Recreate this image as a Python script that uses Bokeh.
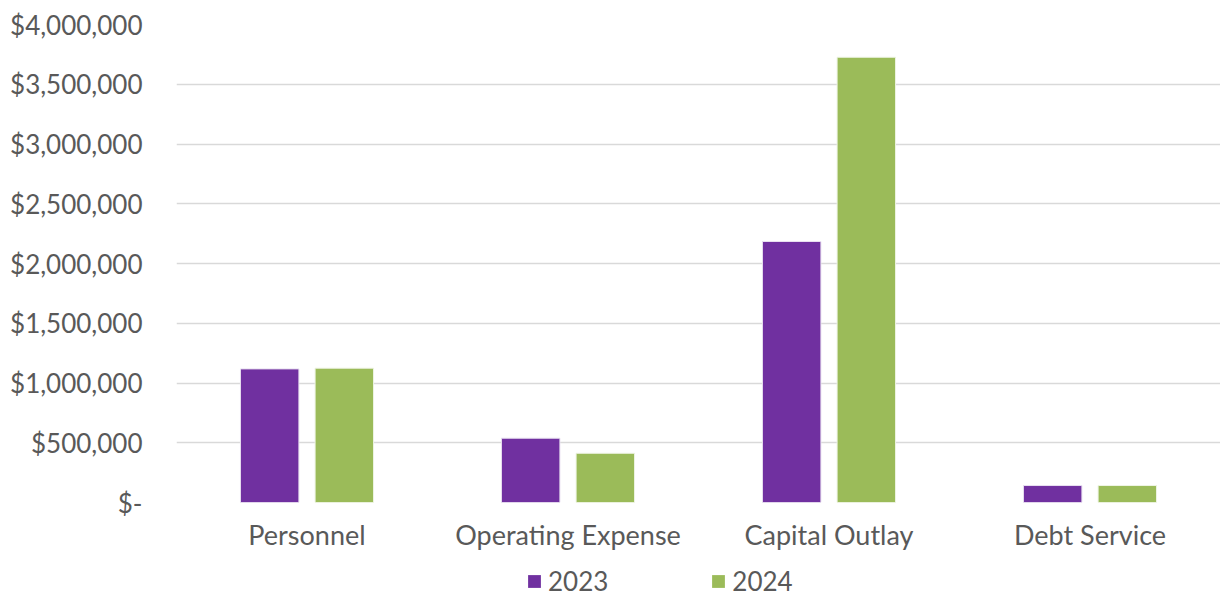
from bokeh.plotting import figure
from bokeh.models import ColumnDataSource, FixedTicker, Legend, LegendItem, FactorRange
from bokeh.layouts import column
from bokeh.transform import dodge
from bokeh.embed import file_html
from bokeh.resources import INLINE

categories = ["Personnel", "Operating Expense", "Capital Outlay", "Debt Service"]
values_2023 = [1118000, 538000, 2184000, 142000]
values_2024 = [1124000, 412000, 3726000, 142000]
series_names = ["2023", "2024"]
tick_values = [0, 500000, 1000000, 1500000, 2000000, 2500000, 3000000, 3500000, 4000000]
tick_labels = ["$-", "$500,000", "$1,000,000", "$1,500,000", "$2,000,000",
               "$2,500,000", "$3,000,000", "$3,500,000", "$4,000,000"]

FONT = "Lato"
TXT = "#595959"
PURPLE = "#7030A0"
GREEN = "#9BBB59"

src = ColumnDataSource(dict(cat=categories, v23=values_2023, v24=values_2024))

p = figure(x_range=FactorRange(*categories, range_padding=0), y_range=(0, 4000000),
           width=1220, height=560, output_backend="svg", toolbar_location=None,
           min_border_left=176, min_border_right=0, min_border_top=24, min_border_bottom=58)
p.outline_line_color = None

p.vbar(x=dodge("cat", -0.143, range=p.x_range), top="v23", width=0.224, source=src,
       fill_color=PURPLE, line_color="#E8E0F0", line_width=1)
p.vbar(x=dodge("cat", 0.143, range=p.x_range), top="v24", width=0.224, source=src,
       fill_color=GREEN, line_color="#EEF4E4", line_width=1)

p.yaxis.ticker = FixedTicker(ticks=tick_values)
p.yaxis.major_label_overrides = {v: l for v, l in zip(tick_values, tick_labels)}
p.yaxis.axis_line_color = None
p.yaxis.major_tick_line_color = None
p.yaxis.minor_tick_line_color = None
p.yaxis.major_label_standoff = 28
p.yaxis.major_label_text_font = FONT
p.yaxis.major_label_text_font_size = "26px"
p.yaxis.major_label_text_color = TXT

p.xaxis.axis_line_color = None
p.xaxis.major_tick_line_color = None
p.xaxis.minor_tick_line_color = None
p.xaxis.major_label_standoff = 9
p.xaxis.major_label_text_font = FONT
p.xaxis.major_label_text_font_size = "27px"
p.xaxis.major_label_text_color = TXT

p.xgrid.grid_line_color = None
p.ygrid.grid_line_color = "#D9D9D9"
p.ygrid.grid_line_width = 1.5

# legend strip below the chart (frames are aligned in the column, so x is relative to x=176)
lg = figure(width=1220, height=37, output_backend="svg", toolbar_location=None,
            min_border=0, x_range=(0, 1), y_range=(0, 1))
lg.axis.visible = False
lg.grid.visible = False
lg.outline_line_color = None
# zero-height placeholder bars: they draw nothing, only provide the legend swatches
proxy = ColumnDataSource(dict(x=[0.0], top=[0.0]))
s1 = lg.vbar(x="x", top="top", width=0.0, source=proxy, fill_color=PURPLE, line_color=None)
s2 = lg.vbar(x="x", top="top", width=0.0, source=proxy, fill_color=GREEN, line_color=None)
legend = Legend(items=[LegendItem(label=series_names[0], renderers=[s1]),
                       LegendItem(label=series_names[1], renderers=[s2])],
                orientation="horizontal", location=(350, 0),
                glyph_width=16, glyph_height=16, label_standoff=6, spacing=102,
                padding=0, margin=0, border_line_color=None, background_fill_alpha=0,
                label_text_font=FONT, label_text_font_size="26px", label_text_color=TXT)
lg.add_layout(legend, "center")

layout = column(p, lg, spacing=0)
open("out.html", "w").write(file_html(layout, INLINE))
